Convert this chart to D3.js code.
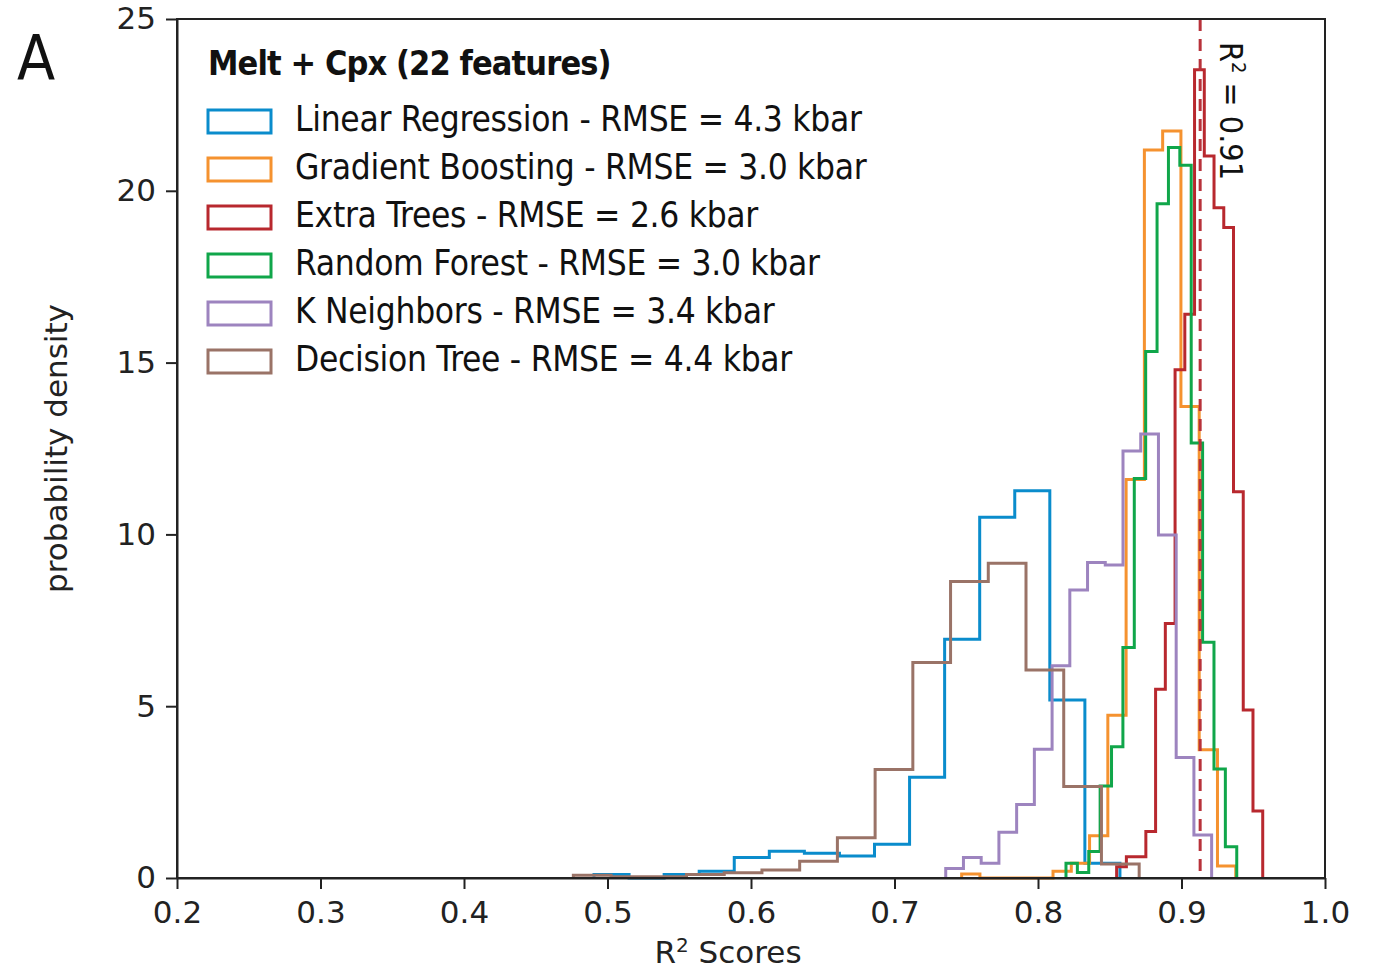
<!DOCTYPE html>
<html>
<head>
<meta charset="utf-8">
<script src="https://cdn.jsdelivr.net/npm/d3@7"></script>
<style>
  body { margin: 0; background: #fff; }
  svg { display: block; }
  .axis text { font-family: "DejaVu Sans", sans-serif; font-size: 31px; fill: #222; }
  .axis path, .axis line { stroke: #222; stroke-width: 2px; }
  .legend text { font-family: "DejaVu Sans Condensed", sans-serif; fill: #111; }
</style>
</head>
<body>
<svg id="chart" width="1381" height="970"></svg>
<script>

// model names and test RMSE (kbar)
var models = ["Linear Regression", "Gradient Boosting", "Extra Trees", "Random Forest", "K Neighbors", "Decision Tree"];
var rmse = ["4.3", "3.0", "2.6", "3.0", "3.4", "4.4"];

// histogram ranges [min, max] of R2 scores, each split in 15 equal bins
var linearRange = [0.4906, 0.8571];
var boostRange  = [0.7468, 0.9378];
var extraRange  = [0.8548, 0.9566];
var forestRange = [0.8195, 0.9385];
var knnRange    = [0.7357, 0.9210];
var treeRange   = [0.4762, 0.8705];

// probability density of each bin
var linearDensity = [0.1, 0, 0.1, 0.2, 0.6, 0.78, 0.72, 0.64, 0.98, 2.93, 6.95, 10.5, 11.27, 5.18, 0.43];
var boostDensity  = [0.12, 0, 0, 0, 0, 0.2, 0.43, 1.23, 4.74, 11.6, 21.19, 21.74, 13.72, 3.73, 0.35];
var extraDensity  = [0.33, 0.62, 0.62, 1.35, 5.49, 7.41, 14.79, 16.41, 23.52, 21.01, 19.51, 18.93, 11.24, 4.89, 1.95];
var forestDensity = [0.43, 0.16, 0.77, 2.68, 3.82, 6.71, 11.63, 15.32, 19.62, 21.26, 20.74, 12.66, 6.86, 3.17, 0.91];
var knnDensity    = [0.28, 0.6, 0.43, 1.33, 2.14, 3.75, 6.18, 8.38, 9.18, 9.11, 12.43, 12.92, 9.98, 3.51, 1.25];
var treeDensity   = [0.08, 0.04, 0.04, 0.1, 0.15, 0.23, 0.49, 1.17, 3.16, 6.27, 8.63, 9.16, 6.05, 2.66, 0.41];

var bestR2 = 0.913;
var xTicks = [0.2, 0.3, 0.4, 0.5, 0.6, 0.7, 0.8, 0.9, 1.0];
var yTicks = [0, 5, 10, 15, 20, 25];

var colors = ["#0a8ccc", "#f5922f", "#b8282e", "#10a64a", "#9d84bf", "#9a7367"];

var ranges = [linearRange, boostRange, extraRange, forestRange, knnRange, treeRange];
var densities = [linearDensity, boostDensity, extraDensity, forestDensity, knnDensity, treeDensity];

var svg = d3.select("#chart"),
    margin = {top: 19, right: 56, bottom: 92, left: 177},
    width = +svg.attr("width") - margin.left - margin.right,
    height = +svg.attr("height") - margin.top - margin.bottom,
    g = svg.append("g").attr("transform", "translate(" + margin.left + "," + margin.top + ")");

var x = d3.scaleLinear().domain([0.2, 1.0]).range([0, width]);
var y = d3.scaleLinear().domain([0, 25]).range([height, 0]);

// step outline of each histogram
function stepPoints(range, dens) {
  var n = dens.length, w = (range[1] - range[0]) / n, pts = [[range[0], 0]];
  dens.forEach(function(d, i) {
    pts.push([range[0] + i * w, d]);
    pts.push([range[0] + (i + 1) * w, d]);
  });
  pts.push([range[1], 0]);
  return pts;
}

var line = d3.line()
    .x(function(d) { return x(d[0]); })
    .y(function(d) { return y(d[1]); });

g.selectAll(".hist")
  .data(d3.range(models.length))
  .enter().append("path")
    .attr("class", "hist")
    .attr("fill", "none")
    .attr("stroke", function(i) { return colors[i]; })
    .attr("stroke-width", 3)
    .attr("stroke-linejoin", "miter")
    .attr("d", function(i) { return line(stepPoints(ranges[i], densities[i])); });

// best score marker
g.append("line")
    .attr("x1", x(bestR2)).attr("x2", x(bestR2))
    .attr("y1", 0).attr("y2", height)
    .attr("stroke", "#b8323a")
    .attr("stroke-width", 3)
    .attr("stroke-dasharray", "12,8");

var r2lab = g.append("text")
    .attr("transform", "translate(" + (x(bestR2) + 20) + ",23) rotate(90)")
    .style("font-family", "DejaVu Sans Condensed, sans-serif")
    .style("font-size", "32px")
    .attr("fill", "#111");
r2lab.append("tspan").text("R");
r2lab.append("tspan").attr("dy", -12).style("font-size", "20px").text("2");
r2lab.append("tspan").attr("dy", 12).text(" = " + bestR2.toFixed(2));

// axes
g.append("g")
    .attr("class", "axis axis--x")
    .attr("transform", "translate(0," + height + ")")
    .call(d3.axisBottom(x).tickValues(xTicks).tickFormat(d3.format(".1f")).tickSize(11).tickPadding(12).tickSizeOuter(0));

g.append("g")
    .attr("class", "axis axis--y")
    .call(d3.axisLeft(y).tickValues(yTicks).tickSize(11).tickPadding(10).tickSizeOuter(0));

// frame
g.append("rect")
    .attr("width", width).attr("height", height)
    .attr("fill", "none").attr("stroke", "#222").attr("stroke-width", 2);

// axis titles
var xlab = g.append("text")
    .attr("x", width / 2 - 23).attr("y", height + 85)
    .attr("text-anchor", "middle")
    .style("font-family", "DejaVu Sans, sans-serif")
    .style("font-size", "31px")
    .attr("fill", "#222");
xlab.append("tspan").text("R");
xlab.append("tspan").attr("dy", -11).style("font-size", "20px").text("2");
xlab.append("tspan").attr("dy", 11).text(" Scores");

g.append("text")
    .attr("transform", "translate(-110," + (height / 2) + ") rotate(-90)")
    .attr("text-anchor", "middle")
    .style("font-family", "DejaVu Sans, sans-serif")
    .style("font-size", "31px")
    .attr("fill", "#222")
    .text("probability density");

// panel letter
svg.append("text")
    .attr("x", 17).attr("y", 80)
    .style("font-family", "DejaVu Sans Condensed, sans-serif")
    .style("font-size", "62px")
    .attr("fill", "#111")
    .text("A");

// legend
var legend = g.append("g").attr("class", "legend");

legend.append("text")
    .attr("x", 31).attr("y", 56)
    .style("font-size", "34px")
    .style("font-weight", "bold")
    .style("letter-spacing", "-0.9px")
    .text("Melt + Cpx (22 features)");

var item = legend.selectAll(".item")
  .data(d3.range(models.length))
  .enter().append("g")
    .attr("class", "item")
    .attr("transform", function(i) { return "translate(31," + (91 + i * 48) + ")"; });

item.append("rect")
    .attr("width", 63).attr("height", 23)
    .attr("fill", "none")
    .attr("stroke", function(i) { return colors[i]; })
    .attr("stroke-width", 3);

item.append("text")
    .attr("x", 87).attr("y", 21)
    .style("font-size", "35px")
    .style("letter-spacing", "-0.3px")
    .text(function(i) { return models[i] + " - RMSE = " + rmse[i] + " kbar"; });

</script>
</body>
</html>
